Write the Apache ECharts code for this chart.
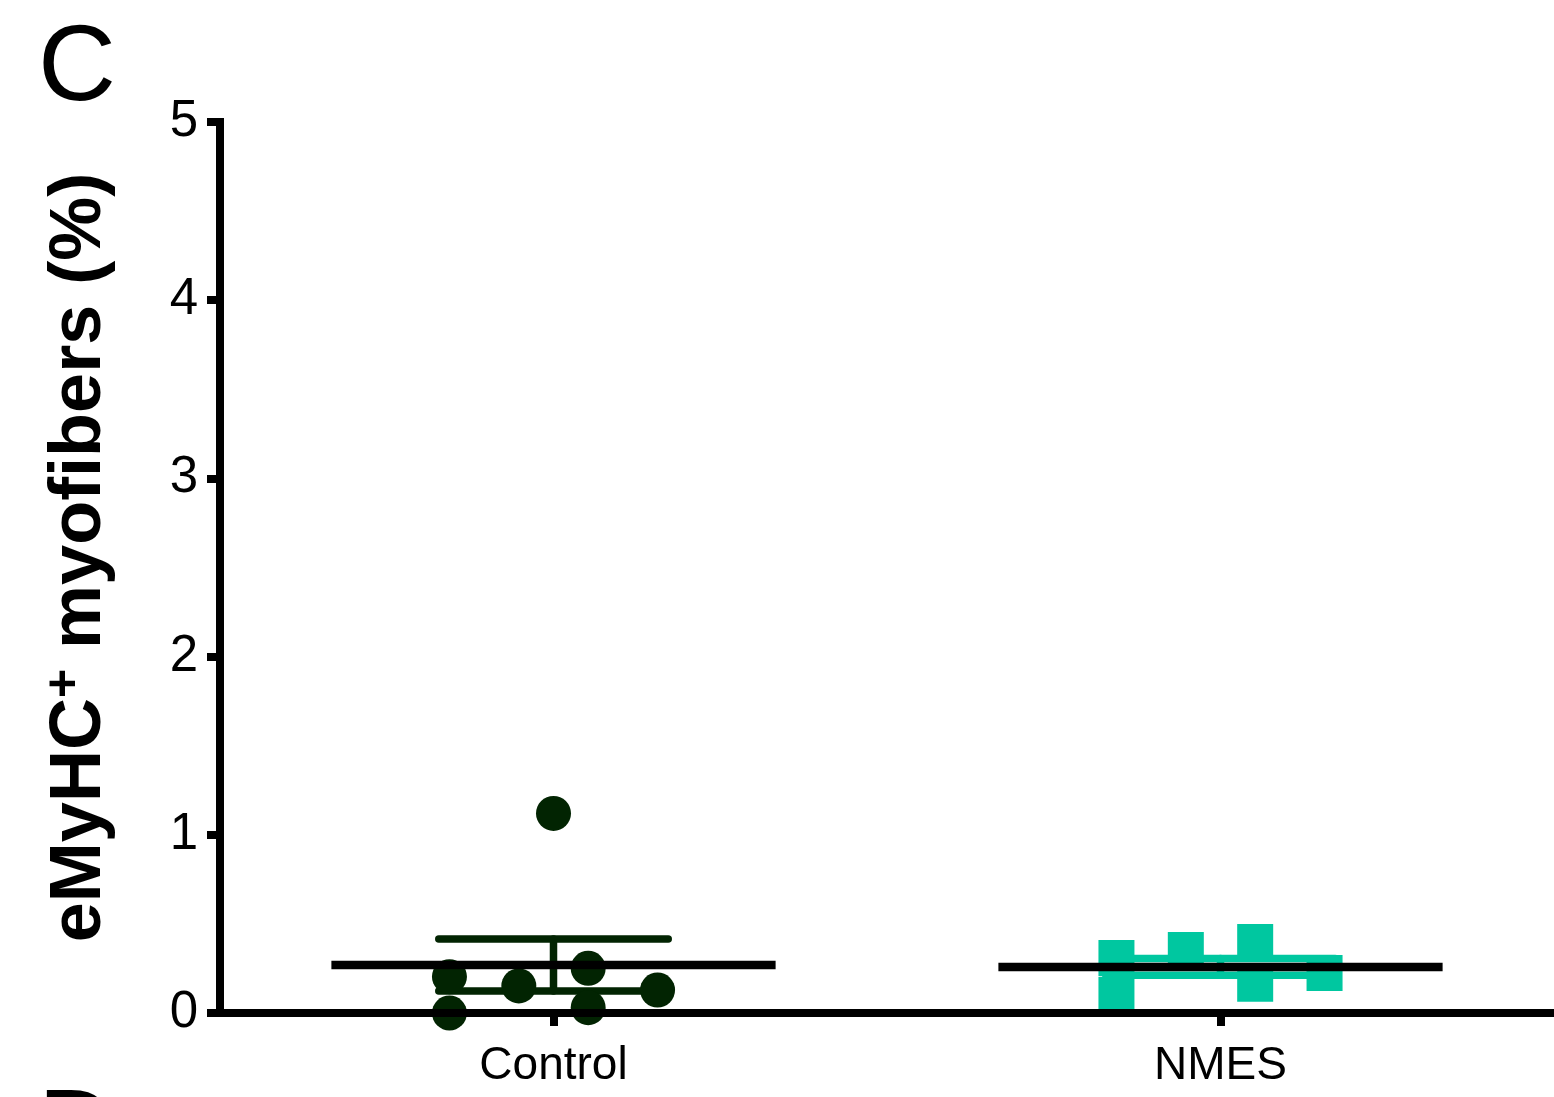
<!DOCTYPE html>
<html>
<head>
<meta charset="utf-8">
<title>eMyHC+ myofibers</title>
<script src="https://cdn.jsdelivr.net/npm/echarts@6/dist/echarts.min.js"></script>
<style>
  html, body { margin: 0; padding: 0; background: #fff; }
  #chart { width: 1554px; height: 1097px; }
</style>
</head>
<body>
<div id="chart"></div>
<script>
// Groups on the x axis
const categories = ['Control', 'NMES'];

// Individual values (%) per animal, with the column slot each dot sits in
const controlValues = [1.12, 0.204, 0.152, 0.251, 0.129, 0.0, 0.03];
const controlSlots  = [0, -3, -1, 1, 3, -3, 1];
const nmesValues    = [0.309, 0.103, 0.354, 0.398, 0.164, 0.225];
const nmesSlots     = [-3, -3, -1, 1, 1, 3];

// Y axis ticks
const yTickLabels = ['0', '1', '2', '3', '4', '5'];

const groupColors = ['#022402', '#00C7A0'];
const SLOT = 0.052;      // horizontal spacing of dots, in category units
const MEAN_HALF = 0.333; // half width of the mean line
const CAP_HALF = 0.172;  // half width of the SEM caps

function mean(a) { return a.reduce((s, v) => s + v, 0) / a.length; }
function sem(a) {
  const m = mean(a);
  const v = a.reduce((s, x) => s + (x - m) * (x - m), 0) / (a.length - 1);
  return Math.sqrt(v) / Math.sqrt(a.length);
}

const groups = [controlValues, nmesValues];
const summary = groups.map((vals, i) => [i, mean(vals), sem(vals)]);

function points(vals, slots, g) {
  return vals.map((v, i) => [g + slots[i] * SLOT, v]);
}

const FONT = '"Liberation Sans", Arial, Helvetica, sans-serif';

const chart = echarts.init(document.getElementById('chart'), null, { renderer: 'canvas' });

chart.setOption({
  backgroundColor: '#ffffff',
  animation: false,
  grid: {
    left: 220, right: 0, top: 122, bottom: 84,
    containLabel: false,
    outerBoundsMode: 'none'
  },
  graphic: [
    { type: 'text', left: 38, top: 16, style: { text: 'C', font: '108px ' + FONT, fill: '#000' } },
    { type: 'text', left: 38, top: 1080, style: { text: 'D', font: '108px ' + FONT, fill: '#000' } }
  ],
  xAxis: [
    {
      type: 'category',
      data: categories,
      boundaryGap: true,
      z: 5,
      axisLine: { show: true, onZero: false, lineStyle: { color: '#000', width: 8, cap: 'square' } },
      axisTick: { show: true, alignWithLabel: true, inside: false, length: 13, lineStyle: { color: '#000', width: 8 } },
      axisLabel: { show: true, interval: 0, margin: 30, color: '#000', fontSize: 46, fontFamily: FONT },
      splitLine: { show: false }
    },
    {
      type: 'value',
      min: -0.5, max: 1.5,
      show: false
    }
  ],
  yAxis: {
    type: 'value',
    min: 0, max: 5, interval: 1,
    z: 5,
    name: 'eMyHC{sup|+} myofibers (%)',
    nameLocation: 'middle',
    nameRotate: 90,
    nameGap: 100,
    nameTextStyle: {
      color: '#000', fontSize: 72, fontWeight: 'bold', fontFamily: FONT,
      padding: [0, 0, 0, 20],
      rich: {
        sup: { fontSize: 50, fontWeight: 'bold', fontFamily: FONT, color: '#000', verticalAlign: 'bottom', padding: [0, 0, 30, 0] }
      }
    },
    axisLine: { show: true, onZero: false, lineStyle: { color: '#000', width: 8, cap: 'square' } },
    axisTick: { show: true, inside: false, length: 13, lineStyle: { color: '#000', width: 8 } },
    axisLabel: {
      margin: 22, color: '#000', fontSize: 51, fontFamily: FONT,
      formatter: (v) => yTickLabels[Math.round(v)]
    },
    splitLine: { show: false }
  },
  series: [
    {
      // SEM error bars
      type: 'custom',
      xAxisIndex: 1,
      yAxisIndex: 0,
      z: 1,
      clip: false,
      data: summary,
      encode: { x: 0, y: 1 },
      renderItem: function (params, api) {
        const g = api.value(0), m = api.value(1), e = api.value(2);
        const color = groupColors[g];
        const top = api.coord([g, m + e]);
        const bot = api.coord([g, m - e]);
        const l = api.coord([g - CAP_HALF, m])[0];
        const r = api.coord([g + CAP_HALF, m])[0];
        const st = { stroke: color, lineWidth: 7.5, lineCap: 'round' };
        return {
          type: 'group',
          children: [
            { type: 'line', shape: { x1: top[0], y1: top[1], x2: bot[0], y2: bot[1] }, style: st },
            { type: 'line', shape: { x1: l, y1: top[1], x2: r, y2: top[1] }, style: st },
            { type: 'line', shape: { x1: l, y1: bot[1], x2: r, y2: bot[1] }, style: st }
          ]
        };
      }
    },
    {
      name: 'Control',
      type: 'scatter',
      xAxisIndex: 1,
      yAxisIndex: 0,
      z: 2,
      clip: false,
      symbol: 'circle',
      symbolSize: 35,
      itemStyle: { color: groupColors[0], opacity: 1 },
      data: points(controlValues, controlSlots, 0)
    },
    {
      name: 'NMES',
      type: 'scatter',
      xAxisIndex: 1,
      yAxisIndex: 0,
      z: 2,
      clip: false,
      symbol: 'rect',
      symbolSize: 36,
      itemStyle: { color: groupColors[1], opacity: 1 },
      data: points(nmesValues, nmesSlots, 1)
    },
    {
      // group means
      type: 'custom',
      xAxisIndex: 1,
      yAxisIndex: 0,
      z: 3,
      clip: false,
      data: summary,
      encode: { x: 0, y: 1 },
      renderItem: function (params, api) {
        const g = api.value(0), m = api.value(1);
        const p = api.coord([g, m]);
        const l = api.coord([g - MEAN_HALF, m])[0];
        const r = api.coord([g + MEAN_HALF, m])[0];
        return {
          type: 'line',
          shape: { x1: l, y1: p[1], x2: r, y2: p[1] },
          style: { stroke: '#000', lineWidth: 8.5, lineCap: 'butt' }
        };
      }
    }
  ]
});
</script>
</body>
</html>
